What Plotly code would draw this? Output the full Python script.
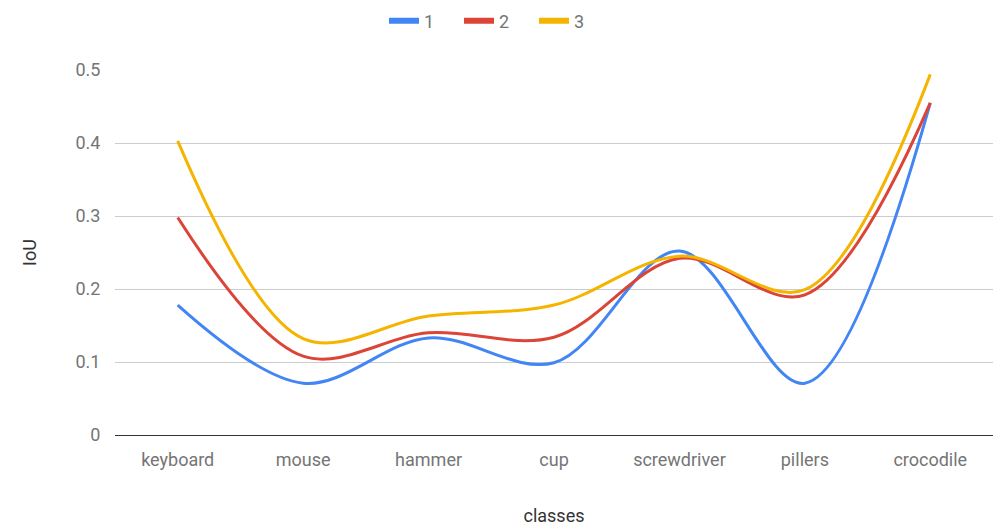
import plotly.graph_objects as go

classes = ["keyboard", "mouse", "hammer", "cup", "screwdriver", "pillers", "crocodile"]
series_names = ["1", "2", "3"]
iou_1 = [0.178, 0.071, 0.133, 0.099, 0.252, 0.071, 0.455]
iou_2 = [0.298, 0.108, 0.140, 0.134, 0.242, 0.192, 0.455]
iou_3 = [0.403, 0.132, 0.163, 0.178, 0.245, 0.199, 0.494]
y_ticks = [0, 0.1, 0.2, 0.3, 0.4, 0.5]
y_tick_text = ["0", "0.1", "0.2", "0.3", "0.4", "0.5"]

colors = ["#4285F4", "#DB4437", "#F4B400"]
text_color = "#757575"
title_color = "#333333"
font_family = "Roboto, Arial, sans-serif"

fig = go.Figure()
for name, vals, col in zip(series_names, [iou_1, iou_2, iou_3], colors):
    # smoothed data line
    fig.add_trace(go.Scatter(
        x=classes, y=vals, name=name, mode="lines", legendgroup=name,
        showlegend=False,
        line=dict(color=col, width=3, shape="spline", smoothing=1.0),
    ))
    # thick legend swatch for the series
    fig.add_trace(go.Scatter(
        x=[None], y=[None], name=name, mode="lines", legendgroup=name,
        showlegend=True, hoverinfo="skip",
        line=dict(color=col, width=6),
    ))

fig.update_layout(
    width=993, height=528,
    margin=dict(l=115, r=0, t=70, b=93),
    paper_bgcolor="white", plot_bgcolor="white",
    font=dict(family=font_family, size=18, color=text_color),
    showlegend=True,
    legend=dict(orientation="h", x=0.5, xanchor="center", xref="container",
                y=0.995, yanchor="top", yref="container",
                font=dict(size=18, color=text_color),
                itemwidth=30, tracegroupgap=0,
                entrywidth=30, entrywidthmode="pixels"),
    xaxis=dict(
        type="category", range=[-0.5, 6.5],
        showgrid=False, zeroline=False, showline=False,
        ticks="outside", ticklen=8, tickcolor="rgba(0,0,0,0)",
        tickfont=dict(size=18, color=text_color),
        title=dict(text="classes", font=dict(size=18, color=title_color), standoff=40),
    ),
    yaxis=dict(
        range=[0, 0.5], tickvals=y_ticks, ticktext=y_tick_text,
        showgrid=True, gridcolor="#cccccc", gridwidth=1,
        zeroline=True, zerolinecolor="#333333", zerolinewidth=1,
        showline=False, ticks="outside", ticklen=10, tickcolor="rgba(0,0,0,0)",
        tickfont=dict(size=18, color=text_color),
        title=dict(text="IoU", font=dict(size=18, color=title_color), standoff=34),
    ),
)

fig.write_html("out.html")
